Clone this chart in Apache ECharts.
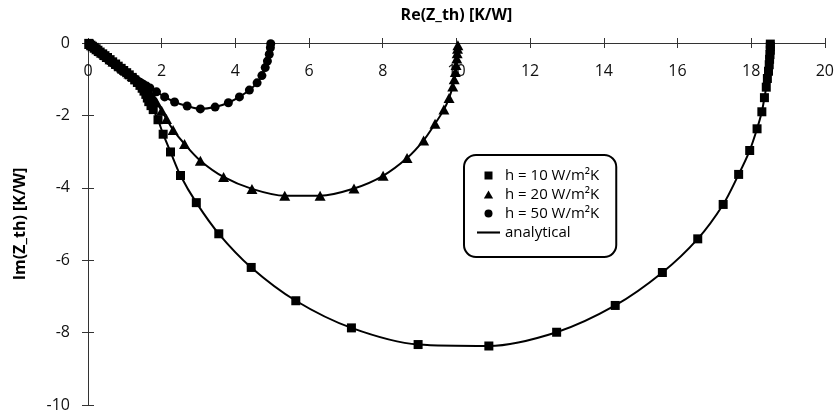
<!DOCTYPE html>
<html>
<head>
<meta charset="utf-8">
<script src="https://cdn.jsdelivr.net/npm/echarts@6/dist/echarts.min.js"></script>
<style>
  html, body { margin: 0; padding: 0; background: #fff; }
  #chart { width: 837px; height: 413px; }
</style>
</head>
<body>
<div id="chart"></div>
<script>
// h = 10 W/m²K  [Re, Im]
var dataH10 = [
  [0.02, -0.01], [0.04, -0.03], [0.08, -0.06], [0.12, -0.09], [0.17, -0.12],
  [0.22, -0.16], [0.27, -0.2], [0.33, -0.25], [0.4, -0.3], [0.46, -0.35],
  [0.53, -0.4], [0.6, -0.46], [0.67, -0.52], [0.75, -0.58], [0.82, -0.64],
  [0.9, -0.7], [0.97, -0.76], [1.05, -0.82], [1.12, -0.88], [1.2, -0.95],
  [1.27, -1.02], [1.34, -1.09], [1.41, -1.17], [1.47, -1.25], [1.52, -1.33],
  [1.57, -1.42], [1.61, -1.52], [1.65, -1.62], [1.71, -1.73], [1.77, -1.84],
  [1.9, -2.12], [2.04, -2.52], [2.24, -3.01], [2.51, -3.66], [2.94, -4.41],
  [3.55, -5.27], [4.43, -6.2], [5.64, -7.12], [7.15, -7.87], [8.96, -8.33],
  [10.88, -8.37], [12.72, -7.99], [14.31, -7.25], [15.59, -6.34], [16.55, -5.41],
  [17.24, -4.46], [17.66, -3.63], [17.96, -2.97], [18.16, -2.37], [18.29, -1.9],
  [18.36, -1.51], [18.41, -1.22], [18.44, -0.98], [18.47, -0.78], [18.49, -0.6],
  [18.5, -0.45], [18.51, -0.32], [18.52, -0.2], [18.52, -0.1], [18.52, -0.03]
];
// h = 20 W/m²K
var dataH20 = [
  [0.04, -0.03], [0.09, -0.06], [0.13, -0.09], [0.19, -0.13], [0.24, -0.17],
  [0.3, -0.22], [0.37, -0.27], [0.45, -0.33], [0.52, -0.39], [0.6, -0.45],
  [0.68, -0.51], [0.77, -0.58], [0.85, -0.64], [0.94, -0.71], [1.02, -0.77],
  [1.11, -0.84], [1.2, -0.91], [1.29, -0.98], [1.38, -1.06], [1.47, -1.14],
  [1.55, -1.23], [1.63, -1.32], [1.71, -1.42], [1.79, -1.53], [1.86, -1.64],
  [2.0, -1.87], [2.13, -2.1], [2.31, -2.4], [2.62, -2.79], [3.05, -3.25],
  [3.68, -3.7], [4.45, -4.03], [5.34, -4.22], [6.3, -4.22], [7.22, -4.02],
  [8.01, -3.67], [8.66, -3.18], [9.11, -2.69], [9.42, -2.23], [9.66, -1.84],
  [9.8, -1.52], [9.9, -1.2], [9.94, -1.0], [9.97, -0.8], [9.99, -0.61],
  [10.01, -0.43], [10.02, -0.28], [10.03, -0.16], [10.04, -0.06]
];
// h = 50 W/m²K
var dataH50 = [
  [0.04, -0.04], [0.08, -0.07], [0.12, -0.11], [0.17, -0.15], [0.22, -0.19],
  [0.27, -0.23], [0.33, -0.28], [0.39, -0.33], [0.45, -0.38], [0.51, -0.43],
  [0.58, -0.49], [0.65, -0.54], [0.72, -0.6], [0.8, -0.65], [0.87, -0.71],
  [0.95, -0.76], [1.02, -0.82], [1.1, -0.87], [1.18, -0.93], [1.26, -0.98],
  [1.34, -1.04], [1.42, -1.09], [1.5, -1.14], [1.59, -1.19], [1.68, -1.24],
  [1.86, -1.35], [2.08, -1.49], [2.35, -1.63], [2.69, -1.74], [3.05, -1.82],
  [3.45, -1.77], [3.81, -1.65], [4.11, -1.49], [4.38, -1.3], [4.59, -1.1],
  [4.72, -0.9], [4.81, -0.68], [4.87, -0.5], [4.92, -0.31], [4.95, -0.13],
  [4.96, -0.02]
];

var names = ['h = 10 W/m²K', 'h = 20 W/m²K', 'h = 50 W/m²K', 'analytical'];

var myChart = echarts.init(document.getElementById('chart'));

var font = 'Open Sans';
var axisColor = '#333';

var lineStyle = { color: '#000', width: 2 };

option = {
  animation: false,
  backgroundColor: '#fff',
  grid: { left: 88, right: 9, top: 43, bottom: 8 },
  legend: {
    orient: 'vertical',
    left: 464,
    top: 155,
    padding: [11, 17, 15, 13],
    itemWidth: 23,
    itemHeight: 8,
    itemGap: 0,
    borderColor: '#000',
    borderWidth: 2,
    borderRadius: 12,
    selectedMode: false,
    textStyle: { fontFamily: font, fontSize: 15, lineHeight: 19, color: '#000' },
    data: [
      { name: names[0], icon: 'path://M0,0H10V10H0Z' },
      { name: names[1], icon: 'path://M5,0L10,8.6L0,8.6Z' },
      { name: names[2], icon: 'circle' },
      { name: names[3], icon: 'path://M0,0H24V2.2H0Z' }
    ]
  },
  xAxis: [
    {
      type: 'value', position: 'top', min: 0, max: 20, interval: 2,
      name: 'Re(Z_th) [K/W]', nameLocation: 'middle', nameGap: 20,
      nameTextStyle: { fontFamily: font, fontSize: 16, fontWeight: 'bold', color: '#000' },
      axisLine: { onZero: false, lineStyle: { color: axisColor, width: 1 } },
      axisTick: { length: 5, lineStyle: { color: axisColor } },
      axisLabel: { inside: true, margin: 20, fontFamily: font, fontSize: 16, color: '#111' },
      splitLine: { show: false }
    },
    {
      type: 'value', position: 'top', min: 0, max: 20, interval: 2,
      axisLine: { show: false },
      axisTick: { inside: true, length: 5, lineStyle: { color: axisColor } },
      axisLabel: { show: false },
      splitLine: { show: false }
    }
  ],
  yAxis: [
    {
      type: 'value', position: 'left', min: -10, max: 0, interval: 2,
      name: 'Im(Z_th) [K/W]', nameLocation: 'middle', nameGap: 60,
      nameTextStyle: { fontFamily: font, fontSize: 16, fontWeight: 'bold', color: '#000' },
      axisLine: { onZero: false, lineStyle: { color: axisColor, width: 1 } },
      axisTick: { length: 6, lineStyle: { color: axisColor } },
      axisLabel: { margin: 18, fontFamily: font, fontSize: 16, color: '#111' },
      splitLine: { show: false }
    },
    {
      type: 'value', position: 'left', min: -10, max: 0, interval: 2,
      axisLine: { show: false },
      axisTick: { inside: true, length: 6, lineStyle: { color: axisColor } },
      axisLabel: { show: false },
      splitLine: { show: false }
    }
  ],
  series: [
    { name: names[3], type: 'line', data: dataH10, smooth: 0.3, symbol: 'none', lineStyle: lineStyle, itemStyle: { color: '#000' }, z: 2 },
    { name: names[3], type: 'line', data: dataH20, smooth: 0.3, symbol: 'none', lineStyle: lineStyle, itemStyle: { color: '#000' }, z: 2 },
    { name: names[3], type: 'line', data: dataH50, smooth: 0.3, symbol: 'none', lineStyle: lineStyle, itemStyle: { color: '#000' }, z: 2 },
    { name: names[0], type: 'scatter', data: dataH10, symbol: 'rect', symbolSize: 9, itemStyle: { color: '#000', opacity: 1 }, z: 3 },
    { name: names[1], type: 'scatter', data: dataH20, symbol: 'triangle', symbolSize: [11, 10], itemStyle: { color: '#000', opacity: 1 }, z: 3 },
    { name: names[2], type: 'scatter', data: dataH50, symbol: 'circle', symbolSize: 9, itemStyle: { color: '#000', opacity: 1 }, z: 3 }
  ]
};
myChart.setOption(option);
</script>
</body>
</html>
